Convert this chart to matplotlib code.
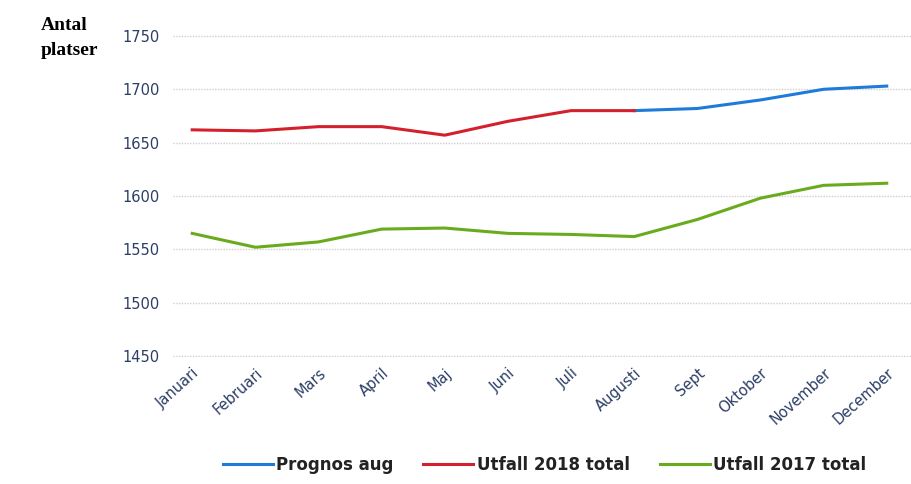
import matplotlib.pyplot as plt

months = ["Januari", "Februari", "Mars", "April", "Maj", "Juni", "Juli",
          "Augusti", "Sept", "Oktober", "November", "December"]

# Utfall 2018 total (Jan-Aug), Prognos aug (Aug-Dec)
utfall_2018 = [1662, 1661, 1665, 1665, 1657, 1670, 1680, 1680]
prognos_aug = [1680, 1682, 1690, 1700, 1703]
utfall_2017 = [1565, 1552, 1557, 1569, 1570, 1565, 1564, 1562,
               1578, 1598, 1610, 1612]

fig = plt.figure(figsize=(9.12, 4.84), dpi=100)
ax = fig.add_axes([0.19, 0.262, 0.81, 0.666])

x_all = list(range(len(months)))
ax.plot(x_all[7:], prognos_aug, color="#1f7ad8", lw=2.2, label="Prognos aug")
ax.plot(x_all[:8], utfall_2018, color="#d4202c", lw=2.2, label="Utfall 2018 total")
ax.plot(x_all, utfall_2017, color="#6aab1e", lw=2.2, label="Utfall 2017 total")

ax.set_ylim(1449, 1751)
ax.set_xlim(-0.3, 11.4)
ax.set_yticks(range(1450, 1751, 50))
ax.set_xticks(x_all)
ax.set_xticklabels(months, rotation=42, ha="right", rotation_mode="anchor",
                   fontsize=10.5, color="#2c3e66")
ax.tick_params(axis="y", labelsize=10.5, labelcolor="#2c3e66", length=0, pad=10)
ax.tick_params(axis="x", length=0, pad=6)
ax.grid(axis="y", color="#cfcfcf", lw=1, ls=(0, (1, 1)))
for s in ax.spines.values():
    s.set_visible(False)

fig.text(0.045, 0.965, "Antal\nplatser", fontsize=14, fontweight="bold",
         family="Liberation Serif", va="top", linespacing=1.6)

fig.legend(loc="lower center", bbox_to_anchor=(0.597, -0.01), ncol=3,
           frameon=False, handlelength=3.0, columnspacing=1.8,
           handletextpad=0.2, prop={"size": 12, "weight": "bold"})
for t in fig.legends[0].get_texts():
    t.set_color("#222222")

fig.savefig("out.png", dpi=100)
